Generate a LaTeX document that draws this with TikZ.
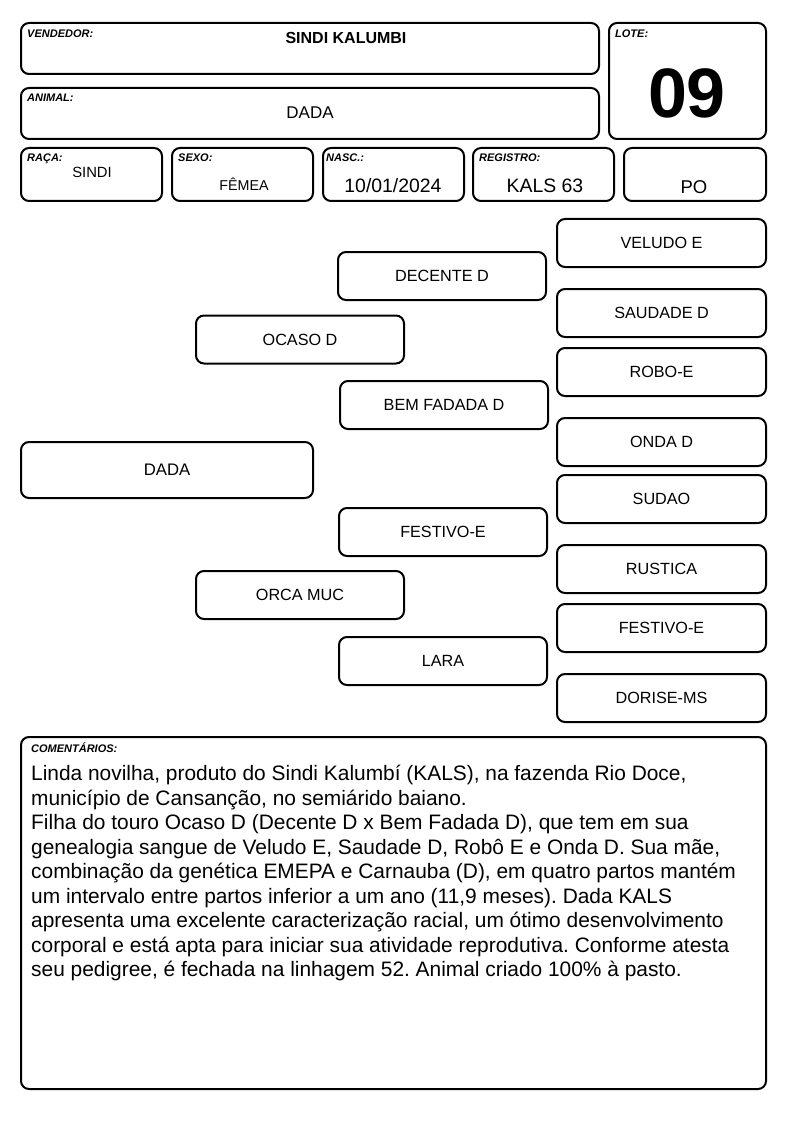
\documentclass[tikz,border=0pt]{standalone}
\usepackage{fontspec}
\setmainfont{Liberation Sans}
\usetikzlibrary{positioning}

\begin{document}
\frenchspacing
\begin{tikzpicture}[x=1pt,y=-1pt]
            \tikzstyle{box} = [draw,line width=2pt,rounded corners=8pt,inner sep=0pt]
            \tikzstyle{tag} = [anchor=north west,inner sep=0pt,font=\fontsize{11}{12}\selectfont\bfseries\itshape]
            \tikzstyle{ped} = [box,minimum width=208pt,minimum height=48pt,font=\fontsize{16.2}{17}\selectfont]
            \useasboundingbox (0,0) rectangle (794,1123);

            % header
            \node[box,minimum width=578pt,minimum height=51pt] (vendedor) at (310,48.5) {};
            \node[tag] (vendedor-tag) at (27,30) {VENDEDOR:};
            \node[font=\fontsize{16}{17}\selectfont\bfseries] (vendedor-val) at (346,38) {SINDI KALUMBI};
            \node[box,minimum width=578pt,minimum height=51pt] (animal) at (310,113.5) {};
            \node[tag] (animal-tag) at (27,94) {ANIMAL:};
            \node[font=\fontsize{17}{18}\selectfont] (animal-val) at (310,113) {DADA};
            \node[box,minimum width=157pt,minimum height=116pt] (lote) at (687.5,81) {};
            \node[tag] (lote-tag) at (615,30) {LOTE:};
            \node[font=\fontsize{70}{72}\selectfont\bfseries] (lote-val) at (687,93) {09};

            \node[box,minimum width=141pt,minimum height=53pt] (raca) at (91.5,174.5) {};
            \node[tag] (raca-tag) at (27,154) {RAÇA:};
            \node[font=\fontsize{14.8}{15}\selectfont] (raca-val) at (92,172) {SINDI};
            \node[box,minimum width=141pt,minimum height=53pt] (sexo) at (242.5,174.5) {};
            \node[tag] (sexo-tag) at (178,154) {SEXO:};
            \node[font=\fontsize{14.3}{15}\selectfont] (sexo-val) at (244,184) {FÊMEA};
            \node[box,minimum width=141pt,minimum height=53pt] (nasc) at (393.5,174.5) {};
            \node[tag] (nasc-tag) at (326,154) {NASC.:};
            \node[font=\fontsize{19.4}{20}\selectfont] (nasc-val) at (393,186) {10/01/2024};
            \node[box,minimum width=141pt,minimum height=53pt] (registro) at (543.5,174.5) {};
            \node[tag] (registro-tag) at (479,154) {REGISTRO:};
            \node[font=\fontsize{19.4}{20}\selectfont] (registro-val) at (545,186) {KALS 63};
            \node[box,minimum width=142pt,minimum height=53pt] (tipo) at (695,174.5) {};
            \node[font=\fontsize{18.5}{19}\selectfont] (tipo-val) at (694,187) {PO};

            % pedigree
            \node[box,minimum width=292pt,minimum height=56pt,font=\fontsize{16.7}{17}\selectfont] (dada) at (167,470) {DADA};
            \node[ped] (pai) at (300,339.5) {OCASO D};
            \node[ped] (mae) at (300,595) {ORCA MUC};
            \node[ped] (avo-pp) at (442,276) {DECENTE D};
            \node[ped] (avo-pm) at (444,405) {BEM FADADA D};
            \node[ped] (avo-mp) at (443,532) {FESTIVO-E};
            \node[ped] (avo-mm) at (443,661) {LARA};
            \node[ped,minimum width=209pt] (bis-1) at (661.5,243) {VELUDO E};
            \node[ped,minimum width=209pt] (bis-2) at (661.5,313) {SAUDADE D};
            \node[ped,minimum width=209pt] (bis-3) at (661.5,372) {ROBO-E};
            \node[ped,minimum width=209pt] (bis-4) at (661.5,442) {ONDA D};
            \node[ped,minimum width=209pt] (bis-5) at (661.5,499) {SUDAO};
            \node[ped,minimum width=209pt] (bis-6) at (661.5,569) {RUSTICA};
            \node[ped,minimum width=209pt] (bis-7) at (661.5,628) {FESTIVO-E};
            \node[ped,minimum width=209pt] (bis-8) at (661.5,698) {DORISE-MS};

            % comments
            \node[box,minimum width=745pt,minimum height=352pt] (comentarios) at (393.5,913) {};
            \node[tag] (comentarios-tag) at (31,743) {COMENTÁRIOS:};
            \node[anchor=north west,inner sep=0pt,align=left,font=\fontsize{20.9}{24.5}\selectfont] (comentarios-txt) at (31,765)
                {Linda novilha, produto do Sindi Kalumbí (KALS), na fazenda Rio Doce,\\
                 município de Cansanção, no semiárido baiano.\\
                 Filha do touro Ocaso D (Decente D x Bem Fadada D), que tem em sua\\
                 genealogia sangue de Veludo E, Saudade D, Robô E e Onda D. Sua mãe,\\
                 combinação da genética EMEPA e Carnauba (D), em quatro partos mantém\\
                 um intervalo entre partos inferior a um ano (11,9 meses). Dada KALS\\
                 apresenta uma excelente caracterização racial, um ótimo desenvolvimento\\
                 corporal e está apta para iniciar sua atividade reprodutiva. Conforme atesta\\
                 seu pedigree, é fechada na linhagem 52. Animal criado 100\% à pasto.};
        \end{tikzpicture}
\end{document}
